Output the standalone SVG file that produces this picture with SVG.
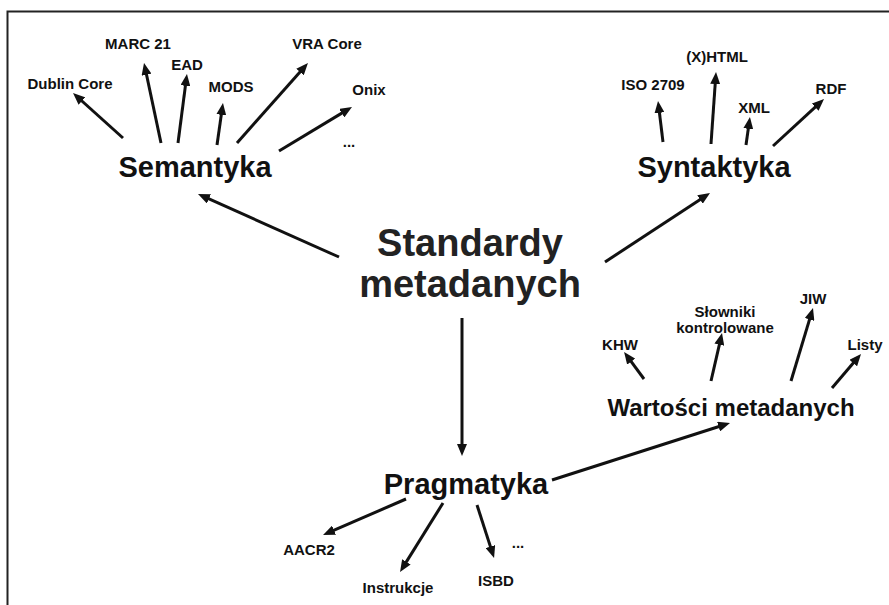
<svg xmlns="http://www.w3.org/2000/svg" width="889" height="605" viewBox="0 0 889 605">
<style>
text{font-family:"Liberation Sans",Arial,sans-serif;font-weight:bold;fill:#111;text-anchor:middle}
.s{font-size:15px}
.m{font-size:29px}
.w{font-size:24px}
.t{font-size:38px;fill:#222}
.c line{stroke:#111;stroke-width:3;marker-end:url(#ah)}
.c line.p{marker-end:none}
</style>
<defs>
<marker id="ah" viewBox="0 0 12 10" refX="3" refY="5" markerWidth="12" markerHeight="10" markerUnits="userSpaceOnUse" orient="auto">
<path d="M0,0 L12,5 L0,10 z" fill="#111"/>
</marker>
</defs>
<rect width="889" height="605" fill="#fff"/>
<g id="frame" stroke="#222" stroke-width="2" fill="none">
<path d="M7.5,605 L7.5,11.5 L889,11.5"/>
</g>
<g class="c" id="connectors">
<line x1="123" y1="138" x2="79.7" y2="99"/>
<line x1="161" y1="143" x2="145.9" y2="71.8"/>
<line x1="178" y1="143" x2="185.8" y2="82.9"/>
<line x1="217" y1="145" x2="221.7" y2="111.9"/>
<line x1="237" y1="143" x2="302" y2="69.7"/>
<line x1="279" y1="151" x2="344.3" y2="111.6"/>
<line x1="339" y1="257" x2="206.2" y2="197.7"/>
<line x1="605" y1="262" x2="702.5" y2="197.9"/>
<line x1="663" y1="142" x2="659.1" y2="109.9"/>
<line x1="711" y1="144" x2="715.4" y2="81"/>
<line x1="746" y1="145" x2="748.7" y2="125.9"/>
<line x1="773" y1="146" x2="817.4" y2="105.1"/>
<line x1="462" y1="318" x2="462" y2="447"/>
<line x1="552" y1="480" x2="721.4" y2="425.7"/>
<line x1="644" y1="379" x2="629.4" y2="359.2"/>
<line x1="711" y1="381" x2="720" y2="341.8"/>
<line x1="791" y1="381" x2="810.4" y2="316.6"/>
<line x1="832" y1="388" x2="855.2" y2="360.8"/>
<line x1="406" y1="499" x2="331.3" y2="531.4"/>
<line x1="443" y1="503" x2="404.8" y2="564.4"/>
<line x1="477" y1="505" x2="491.3" y2="549.4"/>
</g>
<g id="standardy"><text class="t" x="470" y="256">Standardy</text><text class="t" x="470" y="297">metadanych</text></g>
<g id="semantyka"><text class="m" x="195" y="177">Semantyka</text></g>
<g id="syntaktyka"><text class="m" x="714" y="177">Syntaktyka</text></g>
<g id="pragmatyka"><text class="m" x="466" y="494">Pragmatyka</text></g>
<g id="wartosci"><text class="w" x="731" y="416">Wartości metadanych</text></g>
<g id="dublin"><text class="s" x="70" y="89">Dublin Core</text></g>
<g id="marc"><text class="s" x="138" y="49">MARC 21</text></g>
<g id="ead"><text class="s" x="187" y="70">EAD</text></g>
<g id="mods"><text class="s" x="231" y="92">MODS</text></g>
<g id="vra"><text class="s" x="327" y="49">VRA Core</text></g>
<g id="onix"><text class="s" x="369" y="95">Onix</text></g>
<g id="sem-more"><text class="s" x="349" y="147">...</text></g>
<g id="iso"><text class="s" x="653" y="90">ISO 2709</text></g>
<g id="xhtml"><text class="s" x="717" y="62">(X)HTML</text></g>
<g id="xml"><text class="s" x="754" y="113">XML</text></g>
<g id="rdf"><text class="s" x="831" y="94">RDF</text></g>
<g id="khw"><text class="s" x="620" y="350">KHW</text></g>
<g id="slowniki"><text class="s" x="725" y="317">Słowniki</text><text class="s" x="725" y="333">kontrolowane</text></g>
<g id="jiw"><text class="s" x="813" y="304">JIW</text></g>
<g id="listy"><text class="s" x="865" y="350">Listy</text></g>
<g id="aacr2"><text class="s" x="309" y="555">AACR2</text></g>
<g id="instrukcje"><text class="s" x="398" y="593">Instrukcje</text></g>
<g id="isbd"><text class="s" x="496" y="586">ISBD</text></g>
<g id="prag-more"><text class="s" x="518" y="548">...</text></g>
</svg>
